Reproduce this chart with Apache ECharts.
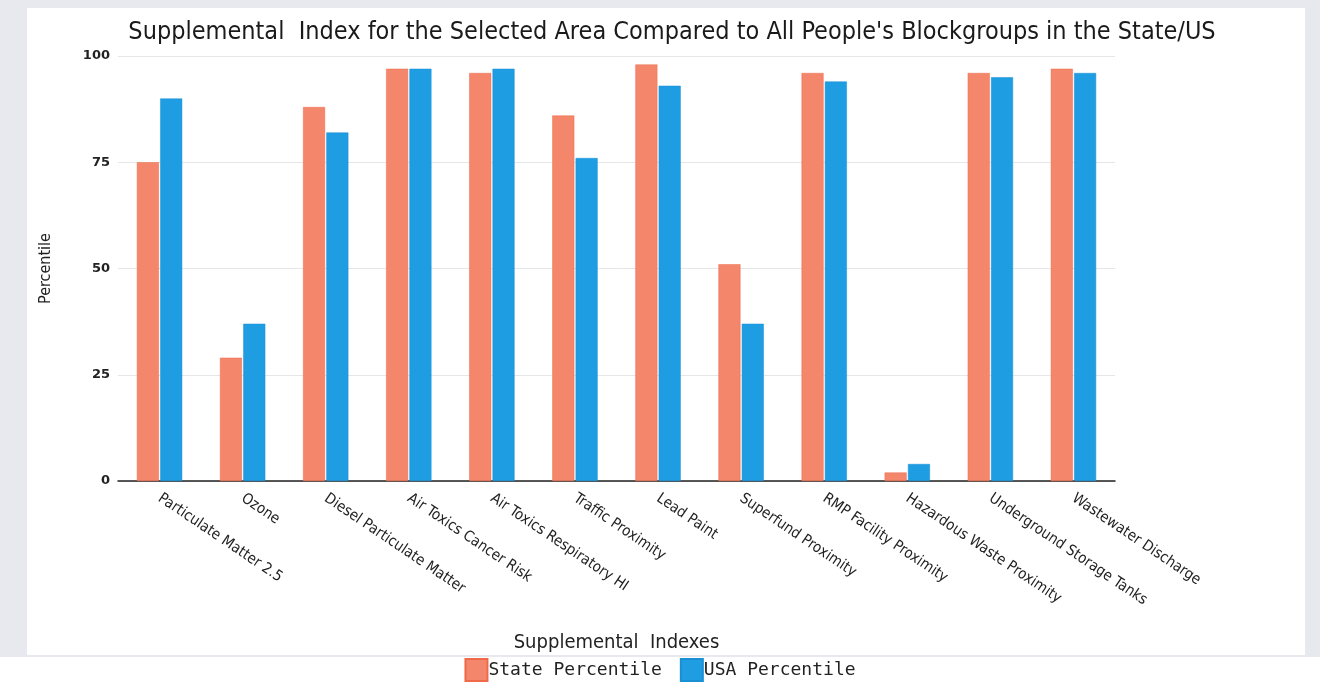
<!DOCTYPE html>
<html>
<head>
<meta charset="utf-8">
<script src="https://cdn.jsdelivr.net/npm/echarts@6/dist/echarts.min.js"></script>
<style>
html,body{margin:0;padding:0;background:#fff;}
#chart{width:1320px;height:688px;}
</style>
</head>
<body>
<div id="chart"></div>
<script>
const categories = [
  "Particulate Matter 2.5", "Ozone", "Diesel Particulate Matter", "Air Toxics Cancer Risk",
  "Air Toxics Respiratory HI", "Traffic Proximity", "Lead Paint", "Superfund Proximity",
  "RMP Facility Proximity", "Hazardous Waste Proximity", "Underground Storage Tanks", "Wastewater Discharge"
];
const statePercentile = [75, 29, 88, 97, 96, 86, 98, 51, 96, 2, 96, 97];
const usaPercentile   = [90, 37, 82, 97, 97, 76, 93, 37, 94, 4, 95, 96];
const yTicks = [0, 25, 50, 75, 100];

const chart = echarts.init(document.getElementById('chart'));
const cond = "'DejaVu Sans Condensed', 'Open Sans', sans-serif";
chart.setOption({
  animation: false,
  backgroundColor: '#ffffff',
  graphic: [
    { type: 'rect', z: -10, shape: { x: 0, y: 0, width: 1320, height: 657 }, style: { fill: '#e7e9ee' } },
    { type: 'rect', z: -9, shape: { x: 27, y: 8, width: 1278, height: 647 }, style: { fill: '#ffffff' } }
  ],
  title: {
    text: "Supplemental  Index for the Selected Area Compared to All People's Blockgroups in the State/US",
    left: 667, top: 15, textAlign: 'center',
    textStyle: { fontFamily: cond, fontSize: 25, fontWeight: 'normal', color: '#1a1a1a' }
  },
  legend: {
    bottom: 1, left: 'center',
    itemWidth: 22, itemHeight: 22, itemGap: 18,
    icon: 'rect',
    textStyle: { fontFamily: "'DejaVu Sans Mono', monospace", fontSize: 18, color: '#222', padding: [0, 0, 0, -4] },
    data: ['State Percentile', 'USA Percentile']
  },
  grid: { left: 118, right: 205, top: 56, height: 425, containLabel: false },
  xAxis: {
    type: 'category',
    data: categories,
    name: 'Supplemental  Indexes',
    nameLocation: 'middle',
    nameGap: 152,
    nameTextStyle: { fontFamily: cond, fontSize: 20, color: '#222', padding: [0, 0, 0, 0] },
    axisLine: { lineStyle: { color: '#222', width: 1.5 } },
    axisTick: { show: false },
    axisLabel: {
      rotate: -34, interval: 0, margin: 16,
      fontFamily: cond, fontSize: 15, color: '#222'
    }
  },
  yAxis: {
    type: 'value', min: 0, max: 100, interval: 25,
    name: 'Percentile', nameLocation: 'middle', nameGap: 64,
    nameTextStyle: { fontFamily: cond, fontSize: 16, color: '#222' },
    axisLine: { show: false }, axisTick: { show: false },
    axisLabel: {
      margin: 8,
      fontFamily: "'DejaVu Sans', sans-serif", fontSize: 13, fontWeight: 'bold', color: '#222',
      formatter: v => yTicks.includes(v) ? String(v) : ''
    },
    splitLine: { lineStyle: { color: '#e4e6ea', width: 1 } }
  },
  series: [
    { name: 'State Percentile', type: 'bar', data: statePercentile, barWidth: 22, barGap: '6%',
      itemStyle: { color: '#f4876b', borderColor: '#ee6a4a', borderWidth: 0.5 } },
    { name: 'USA Percentile', type: 'bar', data: usaPercentile, barWidth: 22,
      itemStyle: { color: '#1e9de3', borderColor: '#1a8fd4', borderWidth: 0.5 } }
  ]
});
</script>
</body>
</html>
